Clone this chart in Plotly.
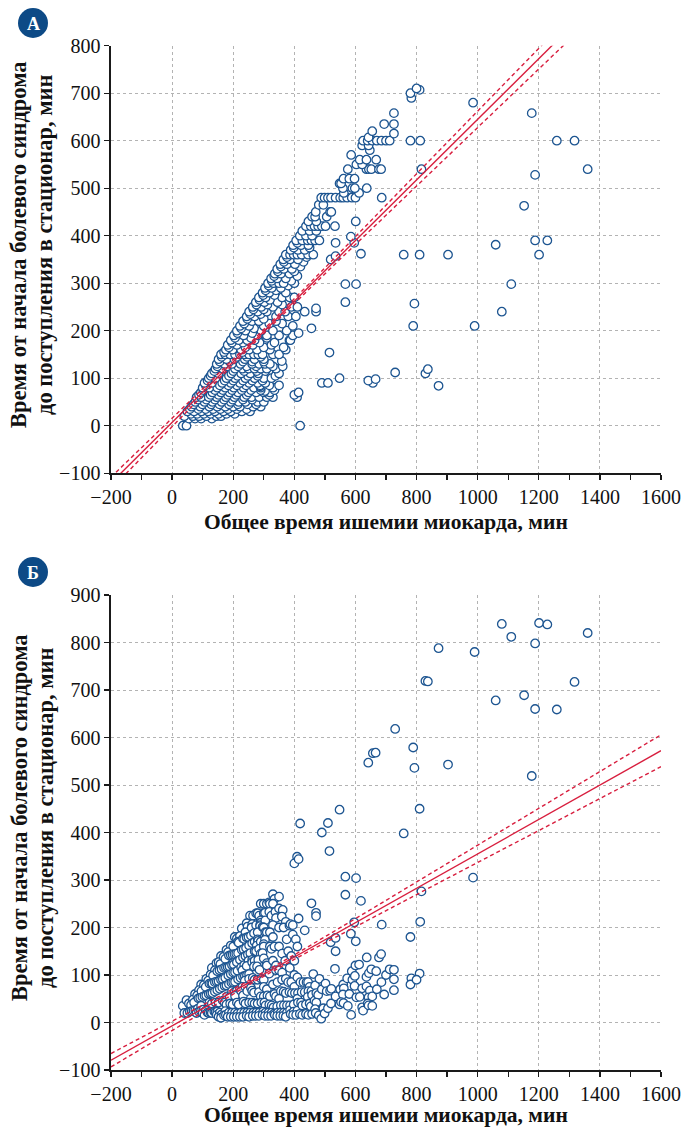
import numpy as np
import plotly.graph_objects as go

# ---------------- data (minutes) ----------------
# Each dict: onset-to-admission time (panel A y) -> list of total ischemia times (x)
rows_low = {
    0: [35, 47, 419],
    15: [55, 75, 95, 130],
    20: [40, 68, 88, 112, 145, 160],
    25: [62, 82, 104, 126, 152, 178, 205],
    30: [50, 72, 96, 118, 140, 168, 192, 228, 255],
    35: [58, 86, 110, 134, 158, 183, 212, 244],
    40: [64, 92, 122, 148, 174, 200, 222, 265, 290],
    45: [70, 99, 128, 155, 186, 215, 247, 275],
    50: [76, 106, 132, 162, 192, 218, 240, 280, 300],
    55: [84, 112, 140, 170, 198, 232, 262],
    60: [80, 95, 120, 146, 176, 204, 236, 260, 285, 310, 330, 409],
    65: [88, 126, 152, 182, 210, 244, 318, 400],
    70: [94, 132, 160, 188, 216, 250, 275, 300, 320, 414],
    73: [304],
    75: [102, 140, 166, 196, 228, 258, 290, 335],
    80: [100, 122, 148, 174, 202, 234, 268, 290, 330],
    83: [288],
    84: [872],
    85: [110, 156, 184, 212, 242, 288, 318, 350],
    90: [106, 130, 164, 192, 222, 252, 280, 305, 490, 510, 657],
    95: [116, 172, 200, 232, 262, 296, 642],
    98: [666],
    100: [120, 142, 178, 206, 240, 270, 300, 325, 548],
    105: [126, 186, 214, 248, 280, 338],
    110: [130, 152, 194, 226, 256, 282, 350, 829],
    112: [730],
    115: [138, 200, 236, 277, 305],
    119: [837],
    120: [142, 166, 206, 230, 250, 270, 290, 310, 340],
    125: [148, 180, 216, 244, 275, 330, 362],
    130: [146, 172, 196, 224, 262, 285, 304, 320],
    135: [156, 188, 232, 262, 300],
    136: [359],
    140: [152, 178, 204, 238, 270, 300],
    145: [162, 212, 245, 290],
    150: [160, 174, 190, 206, 222, 238, 252, 268, 282, 296, 330, 350],
    155: [170, 230],
}
rows_mid = {
    154: [515],
    160: [176, 198, 226, 252, 278, 320, 372],
    165: [186, 240, 300, 365],
    170: [182, 212, 264, 325],
    175: [196, 232, 286, 335],
    180: [192, 218, 246, 270, 384, 387],
    185: [206, 258, 310],
    190: [202, 234, 280, 310, 350, 395],
    195: [214, 262, 414],
    200: [212, 240, 292, 330, 375],
    205: [226, 268, 456],
    210: [222, 252, 300, 395, 789, 990],
    215: [236, 318, 360],
    220: [232, 262, 284, 340],
    225: [246, 300],
    230: [244, 270, 340, 380, 405],
    235: [256, 290],
    240: [252, 280, 310, 350, 370, 434, 471, 1079],
    245: [266, 300],
    247: [471],
    250: [264, 292, 330, 390, 410],
    255: [276, 312, 360],
    257: [793],
    260: [274, 302, 345, 567],
    265: [286, 320],
    270: [284, 306, 360, 385, 400],
    275: [298, 335],
    280: [296, 318, 372],
    285: [306, 340],
    290: [304, 326, 356],
    295: [316, 380],
    298: [567, 602, 1110],
    300: [314, 332, 350, 365, 400],
    305: [326, 390],
    310: [324, 344, 372],
    315: [334, 410],
    320: [336, 356, 384],
    325: [346, 400],
    330: [344, 366, 392],
    335: [356, 420],
    340: [354, 376, 402],
    345: [366, 430],
    350: [364, 386, 412, 519],
    355: [376, 440],
    357: [535],
    360: [372, 386, 398, 410, 424, 445, 462, 758, 810, 903, 1201],
    362: [618],
    370: [388, 412, 434],
    375: [398, 450],
    380: [396, 422, 446],
    381: [1059],
    385: [410, 535, 596],
    390: [406, 426, 444, 456, 468, 482, 1188, 1228],
    398: [585],
    400: [418, 438, 458],
    410: [426, 450, 472],
    420: [438, 454, 466, 478, 490, 502, 533],
    430: [446, 472, 601],
    440: [458, 468, 506],
    450: [470, 517, 521],
}
rows_high = {
    463: [1152],
    465: [480, 495],
    480: [488, 499, 510, 520, 535, 550, 560, 573, 588, 600, 686],
    490: [562, 612],
    500: [559, 590, 598, 637],
    510: [548, 553],
    520: [561, 580, 597],
    528: [1188],
    540: [575, 636, 644, 652, 677, 684, 816, 1360],
    550: [603, 622],
    560: [614, 636, 668],
    570: [586],
    580: [647],
    590: [622, 643],
    600: [625, 640, 655, 670, 685, 700, 712, 780, 812, 1259, 1317],
    607: [643],
    615: [726],
    620: [655],
    635: [694, 726],
    658: [726, 1177],
    680: [985],
    690: [783],
    700: [780],
    707: [810],
    710: [800],
}

# regression lines: y = intercept + slope * x,
# 95% CI half-width = sqrt(ci0^2 + (ci_k * (x - ci_center))^2)
reg_a = {"intercept": 7.0, "slope": 0.638, "ci0": 4.0, "ci_k": 0.0235, "ci_center": 300.0}
reg_b = {"intercept": -7.0, "slope": 0.362, "ci0": 4.0, "ci_k": 0.026, "ci_center": 320.0}

x_ticks = list(range(-200, 1601, 200))
ya_ticks = list(range(-100, 801, 100))
yb_ticks = list(range(-100, 901, 100))

x_title = "Общее время ишемии миокарда, мин"
y_title_1 = "Время от начала болевого синдрома"
y_title_2 = "до поступления в стационар, мин"

# ---------------- build ----------------
def unpack(*groups):
    xs, ys = [], []
    for g in groups:
        for a, xl in g.items():
            for x in xl:
                xs.append(x)
                ys.append(a)
    return np.array(xs, float), np.array(ys, float)

total, prehosp = unpack(rows_low, rows_mid, rows_high)
inhosp = total - prehosp  # total ischemia = prehospital + in-hospital delay

W, H = 685, 1132
XD = [111 / W, 661 / W]
YA = [1 - 473.2 / H, 1 - 45.7 / H]
YB = [1 - 1070 / H, 1 - 595 / H]

MARK = "#1d5591"
RED = "#d81e3e"
NAVY = "#0d4a86"
FONT = "Liberation Serif"

fig = go.Figure()

xl = np.linspace(-200, 1600, 181)


def add_panel(yv, reg, xa, ya):
    fig.add_trace(go.Scatter(
        x=total, y=yv, mode="markers", xaxis=xa, yaxis=ya, showlegend=False,
        marker=dict(symbol="circle", size=8.5, color="white",
                    line=dict(color=MARK, width=1.3)),
        hoverinfo="skip"))
    yhat = reg["intercept"] + reg["slope"] * xl
    h = np.sqrt(reg["ci0"] ** 2 + (reg["ci_k"] * (xl - reg["ci_center"])) ** 2)
    for yy, dash in ((yhat + h, "4px,3px"), (yhat - h, "4px,3px"), (yhat, "solid")):
        fig.add_trace(go.Scatter(
            x=xl, y=yy, mode="lines", xaxis=xa, yaxis=ya, showlegend=False,
            line=dict(color=RED, width=1.4, dash=dash), hoverinfo="skip"))


add_panel(prehosp, reg_a, "x", "y")
add_panel(inhosp, reg_b, "x2", "y2")

axis_common = dict(
    showline=True, linecolor="#1a1a1a", linewidth=1.6,
    ticks="outside", ticklen=5, tickwidth=1.3, tickcolor="#1a1a1a",
    showgrid=True, gridcolor="#b3b3b3", griddash="dot", gridwidth=1,
    zeroline=False, mirror=False, automargin=False,
    tickfont=dict(family=FONT, size=20, color="#111111"),
)

xcommon = dict(axis_common, range=[-200, 1600], tickvals=x_ticks, domain=XD,
               minor=dict(dtick=100, tick0=0, ticks="outside", ticklen=5,
                          tickwidth=1.3, tickcolor="#1a1a1a", showgrid=False))

fig.update_layout(
    width=W, height=H,
    margin=dict(l=0, r=0, t=0, b=0, autoexpand=False),
    paper_bgcolor="white", plot_bgcolor="white",
    xaxis=dict(xcommon, anchor="y"),
    yaxis=dict(axis_common, range=[-100, 800], tickvals=ya_ticks, domain=YA, anchor="x"),
    xaxis2=dict(xcommon, anchor="y2"),
    yaxis2=dict(axis_common, range=[-100, 900], tickvals=yb_ticks, domain=YB, anchor="x2"),
)

annotations = []
shapes = []
for letter, cy, xt_y, yt_y in (("А", 23, 522, 245), ("Б", 572, 1115, 818)):
    shapes.append(dict(type="circle", xref="paper", yref="paper",
                       x0=18 / W, x1=48 / W, y0=1 - (cy + 15) / H, y1=1 - (cy - 15) / H,
                       fillcolor=NAVY, line=dict(width=0), layer="above"))
    annotations.append(dict(text="<b>" + letter + "</b>", xref="paper", yref="paper",
                            x=33 / W, y=1 - (cy + 1) / H, showarrow=False,
                            xanchor="center", yanchor="middle",
                            font=dict(family=FONT, size=18, color="white")))
    annotations.append(dict(text="<b>" + x_title + "</b>", xref="paper", yref="paper",
                            x=386 / W, y=1 - xt_y / H, showarrow=False,
                            xanchor="center", yanchor="middle",
                            font=dict(family=FONT, size=21.5, color="#111111")))
    for line_text, lx in ((y_title_1, 19), (y_title_2, 45)):
        annotations.append(dict(text="<b>" + line_text + "</b>",
                                xref="paper", yref="paper", x=lx / W, y=1 - yt_y / H,
                                showarrow=False, textangle=-90, xanchor="center",
                                yanchor="middle", align="center",
                                font=dict(family=FONT, size=22.5, color="#111111")))

fig.update_layout(annotations=annotations, shapes=shapes)
fig.write_html(
    "out.html",
    config={"displayModeBar": False, "staticPlot": True},
    post_script="document.body.style.margin='0';document.body.style.overflow='hidden';",
)
